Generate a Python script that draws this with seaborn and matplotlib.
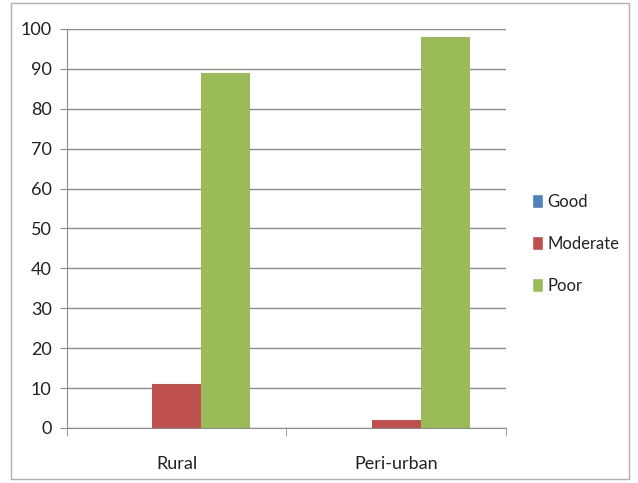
import matplotlib
matplotlib.use("Agg")
import pandas as pd
import seaborn as sns
import matplotlib.pyplot as plt
from matplotlib.patches import Rectangle, Patch

categories = ['Rural', 'Peri-urban']
series = ['Good', 'Moderate', 'Poor']
good = [0, 0]
moderate = [11, 2]
poor = [89, 98]
colors = ['#4F81BD', '#C0504D', '#9BBB59']

df = pd.DataFrame({
    'Area': categories * 3,
    'Quality': [s for s in series for _ in categories],
    'Value': good + moderate + poor,
})

sns.set_style('white')
plt.rcParams['font.family'] = ['Lato', 'DejaVu Sans']

fig = plt.figure(figsize=(6.38, 4.83), dpi=100)
ax = fig.add_axes([0.105, 0.114, 0.688, 0.826])

sns.barplot(data=df, x='Area', y='Value', hue='Quality', palette=colors,
            width=0.67, saturation=1, linewidth=0, ax=ax, legend=False)

ax.set_ylim(0, 100)
ax.set_yticks(range(0, 101, 10))
ax.set_xlim(-0.5, 1.5)
ax.yaxis.grid(True, color='#8c8c8c', linewidth=1)
ax.set_axisbelow(True)
for s in ['top', 'right']:
    ax.spines[s].set_visible(False)
for s in ['left', 'bottom']:
    ax.spines[s].set_color('#8c8c8c')
ax.set_xlabel('')
ax.set_ylabel('')
ax.tick_params(axis='y', length=5, color='#8c8c8c', left=True, labelsize=13,
               pad=6, labelcolor='#222222')
ax.tick_params(axis='x', length=0, labelsize=13, pad=20, labelcolor='#222222')
ax.set_xticks([-0.5, 0.5, 1.5], minor=True)
ax.tick_params(axis='x', which='minor', length=6, color='#8c8c8c', bottom=True)

handles = [Patch(facecolor=c, label=s) for c, s in zip(colors, series)]
fig.legend(handles=handles, loc='center left', bbox_to_anchor=(0.81, 0.495),
           frameon=False, fontsize=12, handlelength=0.65, handleheight=0.9,
           handletextpad=0.3, labelspacing=1.55, labelcolor='#222222')

fig.patches.append(Rectangle((0.018, 0.008), 0.968, 0.985, transform=fig.transFigure,
                             fill=False, edgecolor='#b0b0b0', linewidth=1))

fig.savefig('out.png', dpi=100)
